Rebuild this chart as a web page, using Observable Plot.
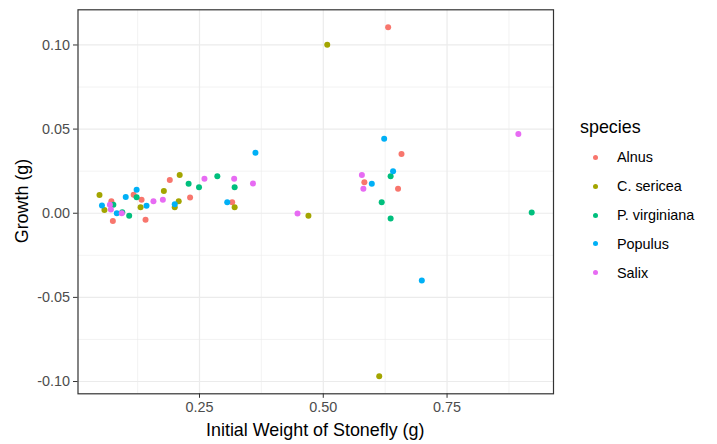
<!DOCTYPE html>
<html>
<head>
<meta charset="utf-8">
<script src="https://cdn.jsdelivr.net/npm/d3@7"></script>
<script src="https://cdn.jsdelivr.net/npm/@observablehq/plot@0.6"></script>
<style>
  html, body { margin: 0; padding: 0; background: #fff; }
  #wrap { position: relative; width: 717px; height: 444px; font-family: "Liberation Sans", Arial, sans-serif; }
  .ttl { position: absolute; color: #000; font-size: 17.9px; white-space: nowrap; }
  .leg { position: absolute; color: #000; font-size: 14.4px; white-space: nowrap; }
  .dot { position: absolute; width: 5px; height: 5px; border-radius: 50%; }
</style>
</head>
<body>
<div id="wrap"></div>
<script>
const species = ["Alnus", "C. sericea", "P. virginiana", "Populus", "Salix"];
const colors = ["#F8766D", "#A3A500", "#00BF7D", "#00B0F6", "#E76BF3"];

const alnusX = [0.072, 0.075, 0.117, 0.133, 0.141, 0.190, 0.231, 0.316, 0.583, 0.651, 0.658, 0.631];
const alnusY = [0.0072, -0.0046, 0.0110, 0.0080, -0.0039, 0.0198, 0.0094, 0.0065, 0.0184, 0.0145, 0.0352, 0.1106];
const sericeaX = [0.048, 0.058, 0.131, 0.178, 0.200, 0.208, 0.210, 0.321, 0.470, 0.508, 0.613];
const sericeaY = [0.0109, 0.0020, 0.0036, 0.0132, 0.0036, 0.0072, 0.0228, 0.0036, -0.0015, 0.1001, -0.0969];
const virginianaX = [0.076, 0.094, 0.108, 0.123, 0.228, 0.249, 0.286, 0.321, 0.618, 0.636, 0.636, 0.921];
const virginianaY = [0.0050, 0.0006, -0.0015, 0.0095, 0.0176, 0.0154, 0.0220, 0.0154, 0.0065, 0.0220, -0.0031, 0.0005];
const populusX = [0.053, 0.083, 0.101, 0.123, 0.143, 0.200, 0.306, 0.363, 0.598, 0.623, 0.641, 0.699];
const populusY = [0.0046, 0.0000, 0.0097, 0.0139, 0.0045, 0.0053, 0.0065, 0.0360, 0.0176, 0.0442, 0.0249, -0.0399];
const salixX = [0.069, 0.071, 0.093, 0.157, 0.176, 0.260, 0.320, 0.358, 0.448, 0.578, 0.581, 0.894];
const salixY = [0.0050, 0.0022, 0.0000, 0.0072, 0.0080, 0.0205, 0.0205, 0.0177, -0.0002, 0.0228, 0.0145, 0.0471];

const xMajor = [0.25, 0.5, 0.75];
const xMinor = [0.125, 0.375, 0.625, 0.875];
const yMajor = [-0.1, -0.05, 0, 0.05, 0.1];
const yMinor = [-0.075, -0.025, 0.025, 0.075];
const xLabel = "Initial Weight of Stonefly (g)";
const yLabel = "Growth (g)";
const legendTitle = "species";

const seriesX = [alnusX, sericeaX, virginianaX, populusX, salixX];
const seriesY = [alnusY, sericeaY, virginianaY, populusY, salixY];
const data = [];
species.forEach((s, i) => seriesX[i].forEach((x, j) => data.push({species: s, x, y: seriesY[i][j]})));

const W = 717, H = 444;
const mL = 77.5, mR = 164, mT = 9.3, mB = 50.7;
const fmt = d => d.toFixed(2);

const plot = Plot.plot({
  width: W, height: H,
  marginLeft: mL, marginRight: mR, marginTop: mT, marginBottom: mB,
  style: {fontFamily: '"Liberation Sans", Arial, sans-serif', fontSize: "14.4px", background: "#fff"},
  x: {domain: [0.0046, 0.965]},
  y: {domain: [-0.1073, 0.1209]},
  color: {domain: species, range: colors},
  marks: [
    Plot.ruleX(xMinor, {stroke: "#EBEBEB", strokeWidth: 0.6}),
    Plot.ruleY(yMinor, {stroke: "#EBEBEB", strokeWidth: 0.6}),
    Plot.ruleX(xMajor, {stroke: "#EBEBEB", strokeWidth: 1.2}),
    Plot.ruleY(yMajor, {stroke: "#EBEBEB", strokeWidth: 1.2}),
    Plot.dot(data, {x: "x", y: "y", fill: "species", r: 3}),
    Plot.frame({stroke: "#333333", strokeWidth: 1.2}),
    Plot.axisX({ticks: xMajor, tickFormat: fmt, tickSize: 4.5, tickPadding: 3.5, label: null, stroke: "#333333", fill: "#4D4D4D", fontSize: 14.4}),
    Plot.axisY({ticks: yMajor, tickFormat: fmt, tickSize: 4.5, tickPadding: 3.5, label: null, stroke: "#333333", fill: "#4D4D4D", fontSize: 14.4})
  ]
});

const wrap = document.getElementById("wrap");
wrap.appendChild(plot);

// axis titles
const panelCx = mL + (W - mL - mR) / 2;
const panelCy = mT + (H - mT - mB) / 2;
const xt = document.createElement("div");
xt.className = "ttl"; xt.textContent = xLabel;
xt.style.left = panelCx + "px"; xt.style.top = "430px";
xt.style.transform = "translate(-50%, -50%)";
wrap.appendChild(xt);
const yt = document.createElement("div");
yt.className = "ttl"; yt.textContent = yLabel;
yt.style.left = "22px"; yt.style.top = panelCy + "px";
yt.style.transform = "translate(-50%, -50%) rotate(-90deg)";
wrap.appendChild(yt);

// legend
const lt = document.createElement("div");
lt.className = "ttl"; lt.textContent = legendTitle;
lt.style.left = "580px"; lt.style.top = "127px"; lt.style.transform = "translateY(-50%)";
wrap.appendChild(lt);
species.forEach((s, i) => {
  const cy = 157.3 + i * 28.85;
  const d = document.createElement("div");
  d.className = "dot"; d.style.background = colors[i];
  d.style.left = (595 - 2.5) + "px"; d.style.top = (cy - 2.5) + "px";
  wrap.appendChild(d);
  const t = document.createElement("div");
  t.className = "leg"; t.textContent = s;
  t.style.left = "617px"; t.style.top = cy + "px"; t.style.transform = "translateY(-50%)";
  wrap.appendChild(t);
});
</script>
</body>
</html>
